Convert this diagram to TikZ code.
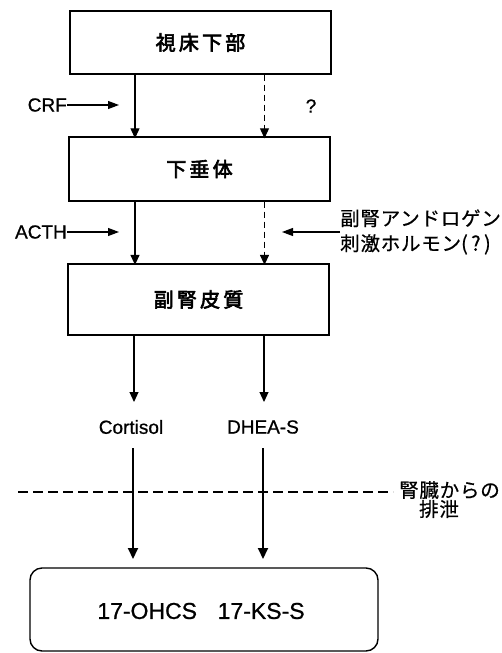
\documentclass[tikz,border=0pt]{standalone}
\usepackage{fontspec}
\setmainfont[FakeBold=0.8]{Liberation Sans}
\newfontfamily\cjk[LetterSpace=4,FakeBold=0.6]{Noto Sans CJK JP}
\newfontfamily\cjkbox[LetterSpace=16,FakeBold=3]{Noto Sans CJK JP}
\usetikzlibrary{arrows.meta}
\begin{document}
\begin{tikzpicture}[x=1pt,y=-1pt,
  organ/.style={draw,line width=1.4pt,minimum width=261pt,inner sep=0pt,font=\cjkbox\fontsize{20}{22}\selectfont},
  lat/.style={font=\fontsize{19}{22}\selectfont,inner sep=0pt},
  jlab/.style={font=\cjk\fontsize{19.5}{25}\selectfont,inner sep=0pt},
  thin/.style={line width=1.1pt,-{Triangle[width=9pt,length=10pt]}},
  thick/.style={line width=1.9pt,-{Triangle[width=10pt,length=11pt]}},
  dsh/.style={thin,dash pattern=on 6pt off 4pt}
]
\useasboundingbox (0,0) rectangle (502,653);
% boxes
\node[organ,minimum height=63pt] (hyp) at (200.5,42.5) {視床下部};
\node[organ,minimum height=64pt] (pit) at (199.5,169) {下垂体};
\node[organ,line width=2.2pt,minimum height=71pt] (adr) at (198.5,299.5) {副腎皮質};
\draw[line width=1.4pt,rounded corners=12pt] (30,568) rectangle (378,651);
\node[font=\fontsize{23}{26}\selectfont,inner sep=0pt] (res) at (201,611) {17-OHCS\hspace{0.9em}17-KS-S};
% column references
\coordinate (L) at (135,0);
\coordinate (R) at (264.5,0);
% hyp -> pit
\draw[thin] (hyp.south -| L) -- ([yshift=-2pt]pit.north -| L);
\draw[dsh] (hyp.south -| R) -- ([yshift=-2pt]pit.north -| R);
\node[lat] (crf) [anchor=east] at (67,105) {CRF};
\coordinate (crfe) at (119,105);
\draw[thin,-{Triangle[width=8pt,length=11pt]}] (crf.east) -- (crfe);
\node[lat] (q) at (311,106) {?};
% pit -> adr
\draw[thin] (pit.south -| L) -- ([yshift=-2pt]adr.north -| L);
\draw[dsh] (pit.south -| R) -- ([yshift=-2pt]adr.north -| R);
\node[lat] (acth) [anchor=east] at (67,232) {ACTH};
\coordinate (acthe) at (119,232);
\draw[thin,-{Triangle[width=8pt,length=11pt]}] (acth.east) -- (acthe);
\node[jlab,anchor=west,align=left] (aash) at (340,232) {副腎アンドロゲン\\刺激ホルモン{\fontsize{20}{25}\selectfont(\,?\,)}};
\coordinate (aashe) at (282,232);
\draw[thin,-{Triangle[width=8pt,length=11pt]}] (aash.west) -- (aashe);
% outputs
\node[lat] (cort) at (131,427) {Cortisol};
\node[lat] (dhea) at (263,427) {DHEA-S};
\coordinate (ct) at (134,402);
\coordinate (dt) at (264,402);
\draw[thin] (adr.south -| ct) -- (ct);
\draw[thin] (adr.south -| dt) -- (dt);
\coordinate (cs) at (133,448);
\coordinate (ds) at (263,448);
\coordinate (ce) at (133,559);
\coordinate (de) at (263,559);
\draw[thick] (cs) -- (ce);
\draw[thick] (ds) -- (de);
% kidney line
\coordinate (k0) at (18,492);
\coordinate (k1) at (393,492);
\draw[line width=1.3pt,dash pattern=on 10pt off 5pt] (k0) -- (k1);
\node[jlab,anchor=west] (kid1) at (399,490) {腎臓からの};
\node[jlab] (kid2) at (439,509) {排泄};
\end{tikzpicture}
\end{document}
